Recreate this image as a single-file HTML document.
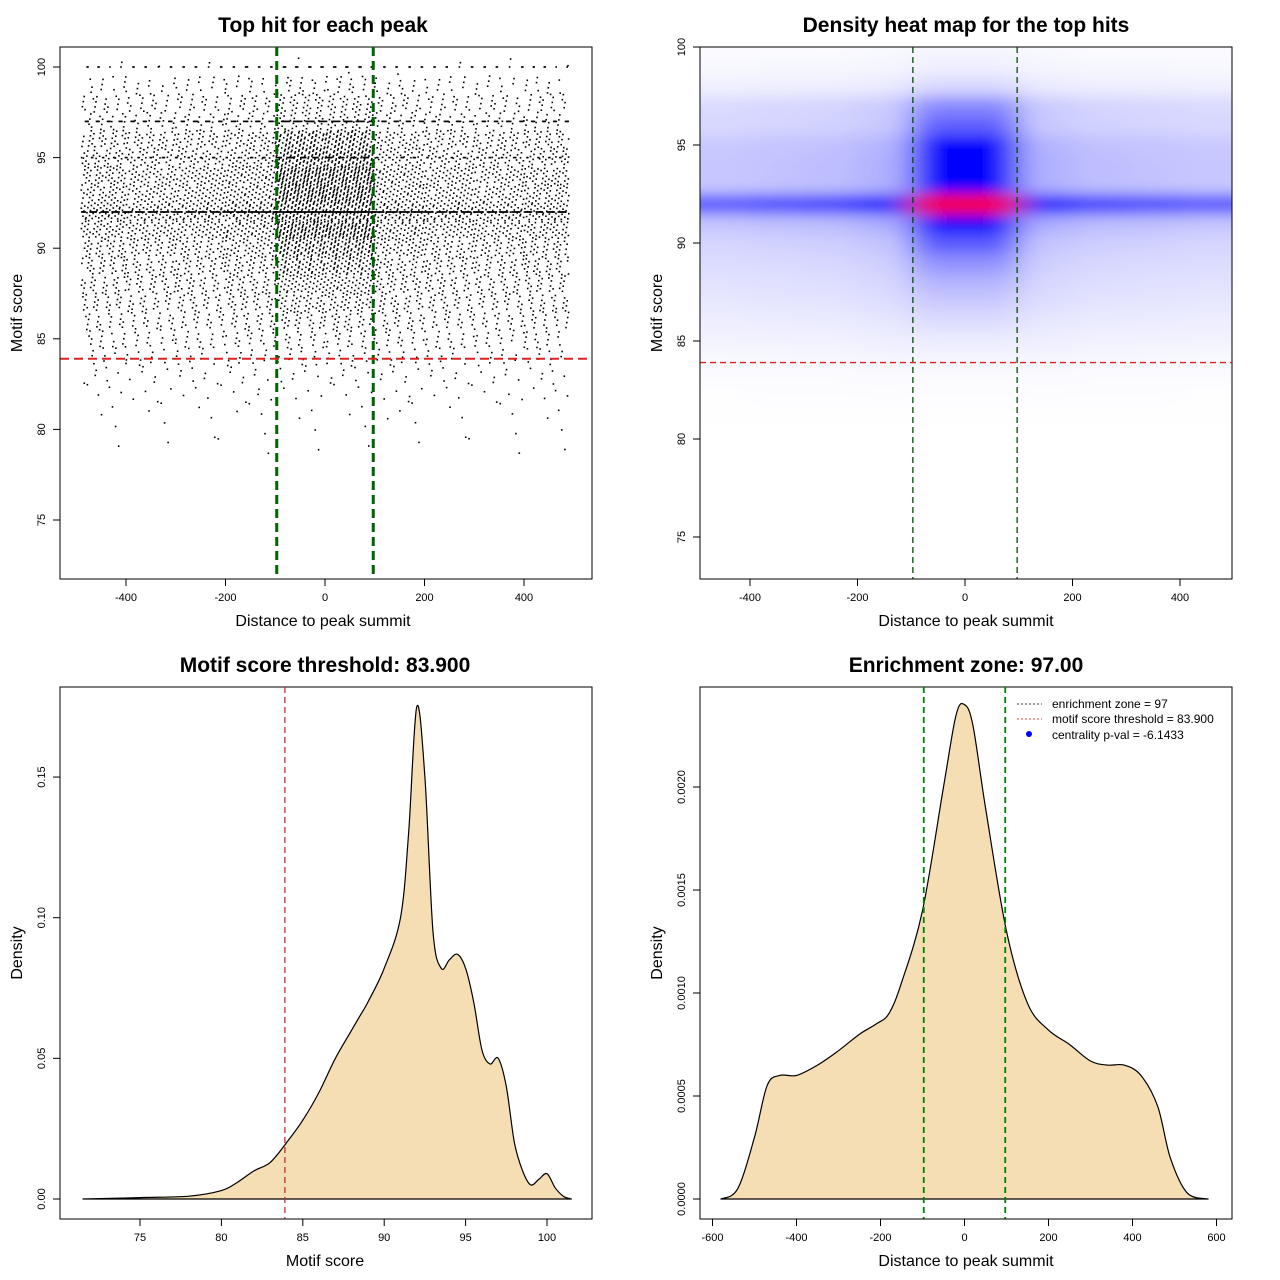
<!DOCTYPE html>
<html><head><meta charset="utf-8"><style>
html,body{margin:0;padding:0;background:#fff}
svg{display:block;font-family:"Liberation Sans",sans-serif}
</style></head><body>
<svg id="s" width="1280" height="1280" viewBox="0 0 1280 1280">
<defs>
<clipPath id="c2"><rect x="700" y="47" width="532" height="532"/></clipPath>
<filter id="bl" x="-20%" y="-20%" width="140%" height="140%"><feGaussianBlur stdDeviation="16 7"/></filter>
</defs>
</svg>
<script>
// ---- data ----
const scoreRows = [73,74,75,76,77,78,79,80,81,82,83,84,85,86,87,88,89,90,91,92,93,94,95,96,97,98,99,100];
const rowTotals = [2,2,3,2,3,4,8,12,22,40,65,110,170,230,290,340,400,480,620,1100,620,620,600,460,420,220,130,90];
const rowCentral = [0.2,0.2,0.2,0.2,0.2,0.2,0.2,0.2,0.2,0.2,0.2,0.22,0.24,0.26,0.28,0.3,0.33,0.36,0.38,0.3,0.4,0.4,0.4,0.37,0.33,0.3,0.28,0.28];
const rowExact = [0,0,0,0,0,0,0,0,0,0,0,0,0,0,0,0,0,0,0,0.4,0,0,0.2,0,0.5,0,0,0.9];
const colStarts = [-500,-400,-300,-200,-100,0,100,200,300,400];
const outerWeights = [1,1.05,1.1,1.25,0,0,1.25,1.1,1.05,1];
const enrichZone = 97;
const scoreThreshold = 83.9;
const scoreDensX = [71.5,75,78,80,81,82,83,84,85,86,87,88,88.5,89,90,91,91.5,92,92.5,93,93.5,94,94.5,95,95.5,96,96.5,97,97.5,98,98.5,99,99.5,100,100.5,101,101.5];
const scoreDensY = [0,0.0005,0.001,0.003,0.006,0.01,0.013,0.02,0.028,0.038,0.05,0.06,0.065,0.07,0.082,0.1,0.13,0.175,0.15,0.095,0.082,0.085,0.087,0.082,0.07,0.053,0.048,0.05,0.04,0.02,0.01,0.005,0.007,0.009,0.004,0.001,0];
const distDensX = [-580,-540,-500,-470,-440,-400,-350,-300,-250,-210,-180,-150,-100,-50,-20,0,20,50,100,150,200,250,300,340,380,420,460,490,530,580];
const distDensY = [0,0.00005,0.0003,0.00055,0.0006,0.0006,0.00065,0.00072,0.0008,0.00085,0.0009,0.00105,0.0014,0.002,0.00235,0.0024,0.0023,0.0019,0.0013,0.00095,0.00082,0.00075,0.00067,0.00065,0.00065,0.0006,0.00045,0.0002,0.00003,0];
const xTicksDist = [-400,-200,0,200,400];
const yTicksScore1 = [75,80,85,90,95,100];
const xTicksScore = [75,80,85,90,95,100];
const yTicksDens3 = [0,0.05,0.1,0.15];
const yTickLabels3 = ["0.00","0.05","0.10","0.15"];
const xTicksDist4 = [-600,-400,-200,0,200,400,600];
const yTicksDens4 = [0,0.0005,0.001,0.0015,0.002];
const yTickLabels4 = ["0.0000","0.0005","0.0010","0.0015","0.0020"];

// ---- helpers ----
const S=document.getElementById('s'),NS='http://www.w3.org/2000/svg';
function mk(tag,at,parent){const e=document.createElementNS(NS,tag);for(const k in at)e.setAttribute(k,at[k]);(parent||S).appendChild(e);return e;}
function txt(x,y,t,size,opts,parent){opts=opts||{};const e=mk('text',{x:x,y:y,'font-size':size,'text-anchor':opts.anchor||'middle','font-weight':opts.bold?'bold':'normal',fill:'#000'},parent);if(opts.rot)e.setAttribute('transform','rotate(-90 '+x+' '+y+')');e.textContent=t;return e;}
function frac(v){return v-Math.floor(v);}
function smooth(pts){let d='M'+pts[0][0].toFixed(1)+','+pts[0][1].toFixed(1);
 for(let i=0;i<pts.length-1;i++){const p0=pts[Math.max(0,i-1)],p1=pts[i],p2=pts[i+1],p3=pts[Math.min(pts.length-1,i+2)];
  const c1=[p1[0]+(p2[0]-p0[0])/6,p1[1]+(p2[1]-p0[1])/6],c2=[p2[0]-(p3[0]-p1[0])/6,p2[1]-(p3[1]-p1[1])/6];
  d+=' C'+c1[0].toFixed(1)+','+c1[1].toFixed(1)+' '+c2[0].toFixed(1)+','+c2[1].toFixed(1)+' '+p2[0].toFixed(1)+','+p2[1].toFixed(1);}
 return d;}

const counts=scoreRows.map((s,r)=>{const tot=rowTotals[r],cen=tot*rowCentral[r],out=tot-cen;const ow=outerWeights.reduce((a,b)=>a+b,0);
 return colStarts.map((c,ci)=>outerWeights[ci]===0?cen/2:out*outerWeights[ci]/ow);});

function frame(x0,y0,x1,y1,name){const r=mk('rect',{x:x0,y:y0,width:x1-x0,height:y1-y0,fill:'none',stroke:'#000','stroke-width':1});}
function xAxis(vals,labels,sx,yb,name){const g=mk('g',{});
 mk('line',{x1:sx(vals[0]),x2:sx(vals[vals.length-1]),y1:yb,y2:yb,stroke:'#000'},g);
 vals.forEach((v,i)=>{mk('line',{x1:sx(v),x2:sx(v),y1:yb,y2:yb+7,stroke:'#000'},g);txt(sx(v),yb+22,labels[i],11,{},g);});}
function yAxis(vals,labels,sy,xl,name){const g=mk('g',{});
 mk('line',{x1:xl,x2:xl,y1:sy(vals[0]),y2:sy(vals[vals.length-1]),stroke:'#000'},g);
 vals.forEach((v,i)=>{mk('line',{x1:xl,x2:xl-7,y1:sy(v),y2:sy(v),stroke:'#000'},g);txt(xl-15,sy(v),labels[i],11,{rot:true},g);});}
function titles(cx,ty,t,xl,xly,yl,ylx,yly){let e=txt(cx,ty,t,21,{bold:true});
 e=txt(cx,xly,xl,16);
 e=txt(ylx,yly,yl,16,{rot:true});}
function dline(x1,y1,x2,y2,col,w,dash,name){const l=mk('line',{x1:x1,y1:y1,x2:x2,y2:y2,stroke:col,'stroke-width':w,'stroke-dasharray':dash});}

// ---- panel 1: scatter ----
const sx1=v=>325+v*0.4975, sy1=v=>67+(100-v)*18.12;
const g1=mk('g',{});
const A1=0.7548776662,A2=0.5698402910;
scoreRows.forEach((s,r)=>{colStarts.forEach((c,ci)=>{const n=Math.round(counts[r][ci]);const ne=Math.round(n*rowExact[r]);
 const lo=Math.max(c,-490),hi=Math.min(c+100,490);
 for(let i=0;i<n;i++){const k=i+1+r*37+ci*53;const u=frac(0.5+k*A1),w=frac(0.5+k*A2);
  const x=lo+u*(hi-lo),y=i<ne?s:s-0.5+w;
  const p=mk('rect',{x:(sx1(x)-0.8).toFixed(1),y:(sy1(y)-0.8).toFixed(1),width:1.6,height:1.6,fill:'#000'},g1);
  }});});
frame(60,47,592,579,'plot-frame-1');
dline(sx1(-enrichZone),47,sx1(-enrichZone),579,'#006400',3,'9 5','enrichment-left-line');
dline(sx1(enrichZone),47,sx1(enrichZone),579,'#006400',3,'9 5','enrichment-right-line');
dline(60,sy1(scoreThreshold),592,sy1(scoreThreshold),'#dd2222',2,'9 5','threshold-line');
xAxis(xTicksDist,xTicksDist.map(String),sx1,579,'x-axis-1');
yAxis(yTicksScore1,yTicksScore1.map(String),sy1,60,'y-axis-1');
titles(323,32,'Top hit for each peak','Distance to peak summit',626,'Motif score',22,313);

// ---- panel 2: heatmap ----
const sx2=v=>965+v*0.5375, sy2=v=>47+(100-v)*19.6;
const cg=mk('g',{'clip-path':'url(#c2)'});const hg=mk('g',{filter:'url(#bl)'},cg);

let mx=0;counts.forEach(r=>r.forEach(v=>mx=Math.max(mx,v)));
scoreRows.forEach((s,r)=>{colStarts.forEach((c,ci)=>{const t=counts[r][ci]/mx;
 const b=Math.min(1,Math.pow(t/0.7,1.5)),rd=Math.max(0,(t-0.85)/0.15);
 let R=255*(1-b)+255*rd,G=255*(1-b),B=255*(1-rd*0.95);
 const x0=ci===0?-600:c,x1=ci===9?600:c+100,y0=s===100?102:s+0.5,y1=s===73?70:s-0.5;
 const cell=mk('rect',{x:sx2(x0),y:sy2(y0),width:sx2(x1)-sx2(x0)+0.5,height:sy2(y1)-sy2(y0)+0.5,fill:'rgb('+Math.round(Math.min(255,R))+','+Math.round(G)+','+Math.round(B)+')'},hg);
 });});
frame(700,47,1232,579,'plot-frame-2');
dline(sx2(-enrichZone),47,sx2(-enrichZone),579,'#004d00',1.3,'6 4','enrichment-left-line');
dline(sx2(enrichZone),47,sx2(enrichZone),579,'#004d00',1.3,'6 4','enrichment-right-line');
dline(700,sy2(scoreThreshold),1232,sy2(scoreThreshold),'#dd2222',1.3,'6 4','threshold-line');
xAxis(xTicksDist,xTicksDist.map(String),sx2,579,'x-axis-2');
yAxis(yTicksScore1,yTicksScore1.map(String),sy2,700,'y-axis-2');
titles(966,32,'Density heat map for the top hits','Distance to peak summit',626,'Motif score',662,313);

// ---- panel 3: score density ----
const sx3=v=>140+(v-75)*16.28, sy3=v=>1199-v*2813;
let pts=scoreDensX.map((x,i)=>[sx3(x),sy3(scoreDensY[i])]);
let a=mk('path',{d:smooth(pts)+' Z',fill:'#F5DEB3',stroke:'#000','stroke-width':1.2,'stroke-linejoin':'round'});
frame(60,687,592,1219,'plot-frame-3');
dline(sx3(scoreThreshold),687,sx3(scoreThreshold),1219,'#c03030',1.3,'6 4','threshold-line');
xAxis(xTicksScore,xTicksScore.map(String),sx3,1219,'x-axis-3');
yAxis(yTicksDens3,yTickLabels3,sy3,60,'y-axis-3');
titles(325,672,'Motif score threshold: 83.900','Motif score',1266,'Density',22,953);

// ---- panel 4: distance density ----
const sx4=v=>964.5+v*0.42, sy4=v=>1199-v*206000;
pts=distDensX.map((x,i)=>[sx4(x),sy4(distDensY[i])]);
a=mk('path',{d:smooth(pts)+' Z',fill:'#F5DEB3',stroke:'#000','stroke-width':1.2,'stroke-linejoin':'round'});
frame(700,687,1232,1219,'plot-frame-4');
dline(sx4(-enrichZone),687,sx4(-enrichZone),1219,'#008000',1.8,'6 4','enrichment-left-line');
dline(sx4(enrichZone),687,sx4(enrichZone),1219,'#008000',1.8,'6 4','enrichment-right-line');
xAxis(xTicksDist4,xTicksDist4.map(String),sx4,1219,'x-axis-4');
yAxis(yTicksDens4,yTickLabels4,sy4,700,'y-axis-4');
titles(966,672,'Enrichment zone: 97.00','Distance to peak summit',1266,'Density',662,953);
const lg=mk('g',{});
mk('line',{x1:1017,x2:1042,y1:704,y2:704,stroke:'#333','stroke-dasharray':'2 2'},lg);
mk('line',{x1:1017,x2:1042,y1:719,y2:719,stroke:'#e04040','stroke-dasharray':'2 2'},lg);
mk('circle',{cx:1029,cy:734,r:3,fill:'#0000ff'},lg);
txt(1052,708,'enrichment zone = 97',12,{anchor:'start'},lg);
txt(1052,723,'motif score threshold = 83.900',12,{anchor:'start'},lg);
txt(1052,739,'centrality p-val = -6.1433',12,{anchor:'start'},lg);
</script>
</body></html>
